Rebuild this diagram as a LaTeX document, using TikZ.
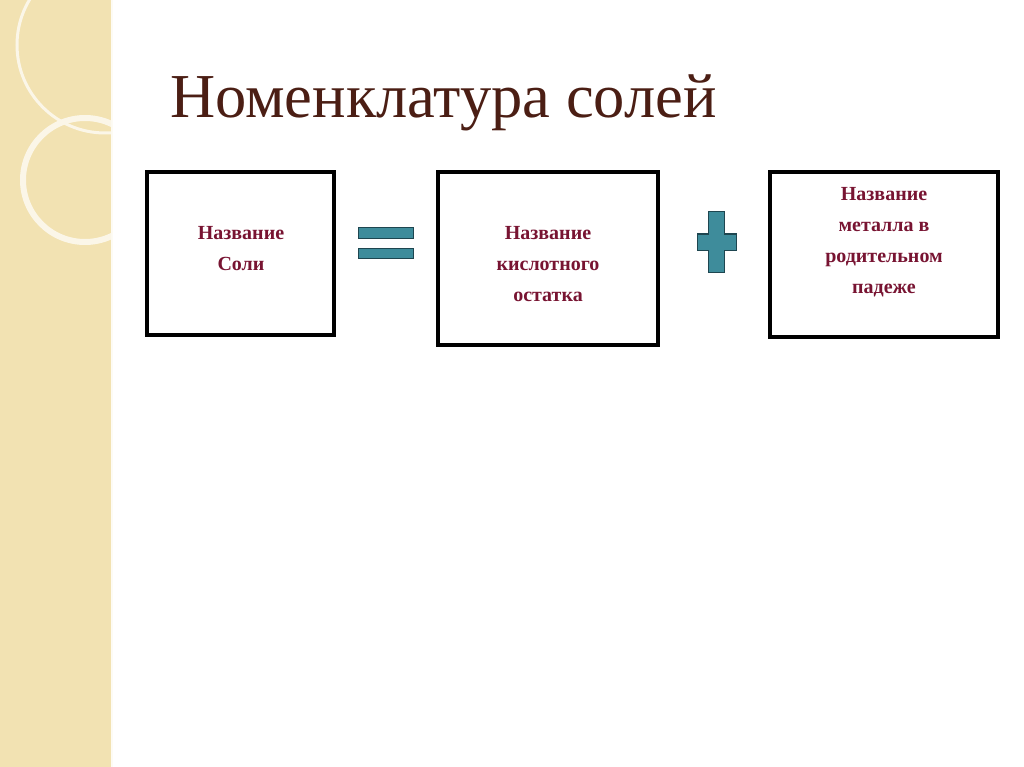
\documentclass[tikz,border=0pt]{standalone}
\usepackage{fontspec}
\setmainfont{Liberation Serif}
\begin{document}
\begin{tikzpicture}[x=1pt,y=-1pt,
 bx/.style={draw=black,line width=3.2pt},
 lbl/.style={font=\bfseries\fontsize{20}{31}\selectfont,text=txt,align=center},
 sym/.style={fill=teal1,draw=teal2,line width=1pt}]
\definecolor{txt}{RGB}{120,20,50}
\definecolor{teal1}{RGB}{62,140,155}
\definecolor{teal2}{RGB}{30,70,80}
\definecolor{beige}{RGB}{242,226,178}
\definecolor{ttl}{RGB}{75,30,20}
\useasboundingbox (0,0) rectangle (1024,767);
\fill[white] (0,0) rectangle (1024,767);
\fill[beige] (0,0) rectangle (112,767);
\draw[white!85!beige,line width=2pt] (112,0) -- (112,767);
\begin{scope}
\clip (0,0) rectangle (111,767);
\draw[white!70!beige,line width=6pt] (85,180) circle (62);
\draw[white!70!beige,line width=3pt] (105,45) circle (88);
\end{scope}
\node[anchor=base west,font=\fontsize{62.5}{68}\selectfont,text=ttl,inner sep=0pt] (title) at (170,118) {Номенклатура солей};
\draw[bx] (147,172) rectangle (334,335);
\draw[bx] (438,172) rectangle (658,345);
\draw[bx] (770,172) rectangle (998,337);
\node[lbl] (a) at (241,249) {Название\\Соли};
\node[lbl] (b) at (548,264) {Название\\кислотного\\остатка};
\node[lbl] (c) at (884,242) {Название\\металла в\\родительном\\падеже};
\draw[sym] (358,228) rectangle (413,238);
\draw[sym] (358,248) rectangle (413,258);
\draw[sym] (708,212) -- (724,212) -- (724,234) -- (736,234) -- (736,250) -- (724,250) -- (724,272) -- (708,272) -- (708,250) -- (697,250) -- (697,234) -- (708,234) -- cycle;
\end{tikzpicture}
\end{document}
